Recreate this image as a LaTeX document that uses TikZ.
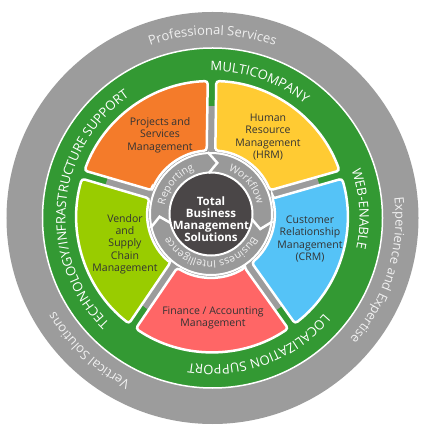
\documentclass[tikz,border=0pt]{standalone}
\usepackage{fontspec}
\setmainfont{Open Sans}
\usetikzlibrary{calc}
\usetikzlibrary{decorations.text}

\definecolor{wheelgray}{HTML}{9C9C9C}
\definecolor{wheelgreen}{HTML}{339933}
\definecolor{projorange}{HTML}{F47B2A}
\definecolor{hrmyellow}{HTML}{FFCB33}
\definecolor{crmblue}{HTML}{55C3F7}
\definecolor{finred}{HTML}{FF6666}
\definecolor{vendgreen}{HTML}{99CC00}
\definecolor{hubdark}{HTML}{4A4647}
\definecolor{hubgray}{HTML}{999999}
\definecolor{segdark}{HTML}{333333}
\definecolor{wordlight}{HTML}{F0F0F0}

\newcommand\graywordfont{\fontsize{13}{13}\selectfont}
\newcommand\greenwordfont{\fontsize{13}{13}\selectfont}
\newcommand\hubwordfont{\fontsize{10.5}{10.5}\selectfont}

\tikzset{segment/.style = {draw=white, line width=2.5pt, rounded corners=3pt},
         segtext/.style = {text=segdark, align=center,
                           font=\fontsize{10.5}{12.3}\selectfont},
         hubtext/.style = {text=white, align=center,
                           font=\bfseries\fontsize{11.5}{12}\selectfont},
         chevron/.style = {draw=white, line width=2.5pt},
         grayword/.style = {decorate, decoration={text along path, text align=center,
                            text color=wordlight, text={|\graywordfont|#1}}},
         greenword/.style = {decorate, decoration={text along path, text align=center,
                             text color=white, text={|\greenwordfont|#1}}},
         hubword/.style = {decorate, decoration={text along path, text align=center,
                           text color=wordlight, text={|\hubwordfont|#1}}}}

\begin{document}
\begin{tikzpicture}[x=1pt, y=1pt]
  \fill[white] (-212.5,-217) rectangle (210.5,218);
  \useasboundingbox (-212.5,-217) rectangle (210.5,218);
  \coordinate (O) at (0,0);
  \coordinate (S) at (-0.5,1.5);
  \coordinate (H) at (-1.5,4);

  % outer rings
  \fill[wheelgray] (O) circle[radius=206pt];
  \draw[white, line width=1.5pt, fill=wheelgreen] (O) circle[radius=170pt];
  \fill[wheelgray] (O) circle[radius=112pt];

  % five modules
  \foreach \c/\col in {126/projorange, 54/hrmyellow, -18/crmblue, -90/finred, -162/vendgreen}{
    \pgfmathsetmacro\ao{\c+36-1.8}
    \pgfmathsetmacro\bo{\c-36+1.8}
    \pgfmathsetmacro\ai{\c+36-3.9}
    \pgfmathsetmacro\bi{\c-36+3.9}
    \draw[segment, fill=\col] ($(H)+(\ai:63.5pt)$) -- ($(S)+(\ao:135.5pt)$)
      arc[start angle=\ao, end angle=\bo, radius=135.5pt]
      -- ($(H)+(\bi:63.5pt)$) arc[start angle=\bi, end angle=\ai, radius=63.5pt] -- cycle;
  }

  % hub
  \draw[white, line width=2pt, fill=hubgray] (H) circle[radius=61pt];
  \draw[white, line width=2pt, fill=hubdark] (H) circle[radius=41.5pt];
  \foreach \j in {90,-10,190}
    \draw[chevron] ($(H)+(\j+3:62pt)$) -- ($(H)+(\j-7:51.5pt)$) -- ($(H)+(\j+3:41pt)$);

  \node[hubtext] (hub) at (-1.5,-1) {Total\\Business\\Management\\Solutions};

  \node[segtext] (projects) at (-52.5,83) {Projects and\\Services\\Management};
  \node[segtext] (hrm) at (55.5,81) {Human\\Resource\\Management\\(HRM)};
  \node[segtext] (crm) at (97.5,-21) {Customer\\Relationship\\Management\\(CRM)};
  \node[segtext] (finance) at (0.5,-100) {Finance / Accounting\\Management};
  \node[segtext] (vendor) at (-87.5,-26) {Vendor\\and\\Supply\\Chain\\Management};

  % ring words
  \path[hubword={Reporting}] ($(H)+(185:47pt)$) arc[start angle=185, end angle=95, radius=47pt];
  \path[hubword={Workflow}] ($(H)+(85:47pt)$) arc[start angle=85, end angle=-5, radius=47pt];
  \path[hubword={Business Intelligence}] ($(H)+(-12:47pt)$) arc[start angle=-12, end angle=-168, radius=47pt];

  \path[greenword={MULTICOMPANY}] (120:147pt) arc[start angle=120, end angle=22, radius=147pt];
  \path[greenword={WEB-ENABLE}] (40:147pt) arc[start angle=40, end angle=-33, radius=147pt];
  \path[greenword={LOCALIZATION SUPPORT}] (-20:147pt) arc[start angle=-20, end angle=-120, radius=147pt];
  \path[greenword={TECHNOLOGY/INFRASTRUCTURE SUPPORT}] (240:147pt) arc[start angle=240, end angle=110, radius=147pt];

  \path[grayword={Professional Services}] (130:183pt) arc[start angle=130, end angle=50, radius=183pt];
  \path[grayword={Experience and Expertise}] (25:183pt) arc[start angle=25, end angle=-60, radius=183pt];
  \path[grayword={Vertical Solutions}] (260:183pt) arc[start angle=260, end angle=194, radius=183pt];
\end{tikzpicture}
\end{document}
